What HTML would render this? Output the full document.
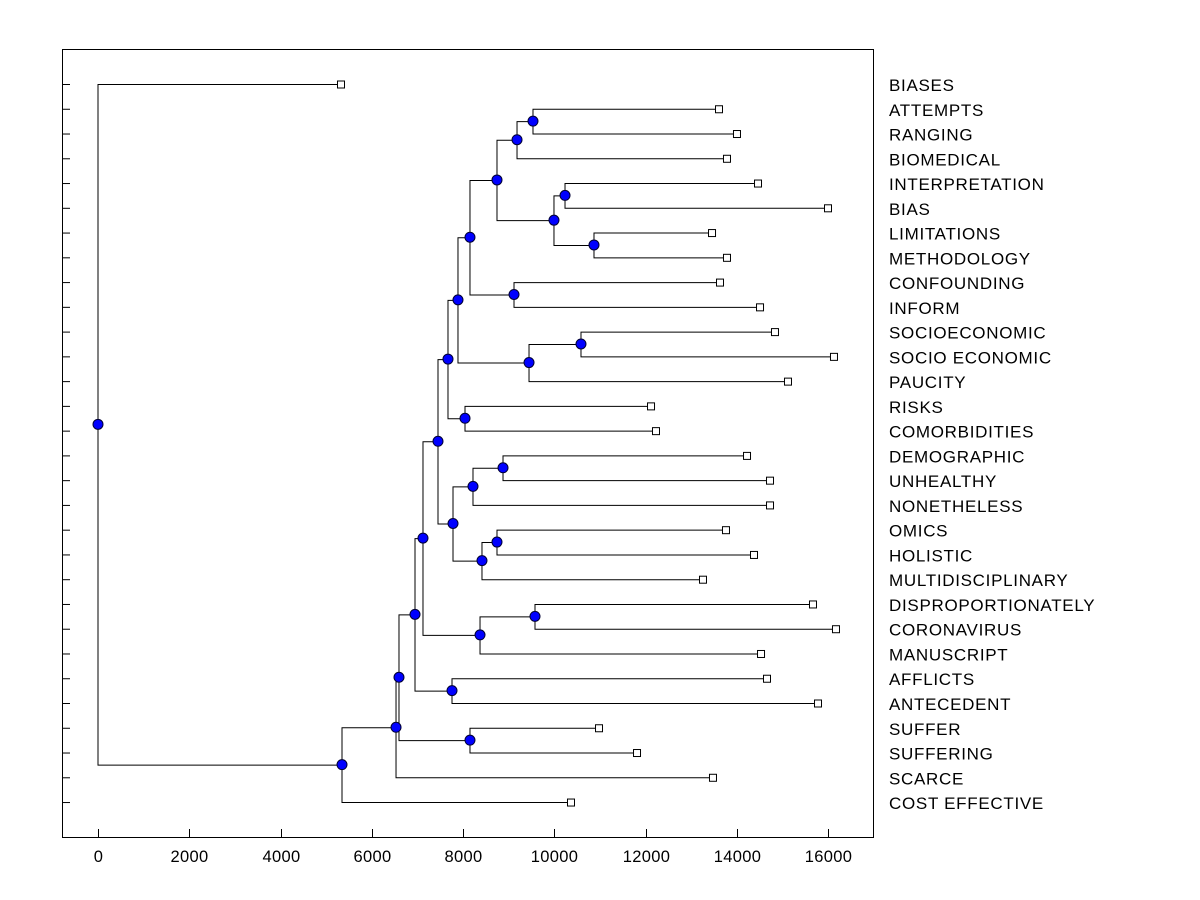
<!DOCTYPE html>
<html><head><meta charset="utf-8"><style>
body{margin:0;background:#fff;}
svg{display:block;font-family:"Liberation Sans",sans-serif;}
</style></head><body>
<svg id="chart" width="1200" height="900" xmlns="http://www.w3.org/2000/svg">
<rect x="62.5" y="49.5" width="811" height="788" fill="none" stroke="#000" stroke-width="1"/>
<g id="g"></g>
</svg>
<script>
const leafLabels=["BIASES","ATTEMPTS","RANGING","BIOMEDICAL","INTERPRETATION","BIAS","LIMITATIONS","METHODOLOGY","CONFOUNDING","INFORM","SOCIOECONOMIC","SOCIO ECONOMIC","PAUCITY","RISKS","COMORBIDITIES","DEMOGRAPHIC","UNHEALTHY","NONETHELESS","OMICS","HOLISTIC","MULTIDISCIPLINARY","DISPROPORTIONATELY","CORONAVIRUS","MANUSCRIPT","AFFLICTS","ANTECEDENT","SUFFER","SUFFERING","SCARCE","COST EFFECTIVE"];
const leafValues=[5326,13611,14005,13786,14466,16000,13458,13786,13633,14510,14838,16131,15123,12121,12230,14225,14729,14729,13764,14378,13260,15671,16175,14532,14663,15781,10981,11814,13479,10367];
const mergeChildren=[["L1","L2"],["N0","L3"],["L4","L5"],["L6","L7"],["N2","N3"],["N1","N4"],["L8","L9"],["N5","N6"],["L10","L11"],["N8","L12"],["N7","N9"],["L13","L14"],["N10","N11"],["L15","L16"],["N13","L17"],["L18","L19"],["N15","L20"],["N14","N16"],["N12","N17"],["L21","L22"],["N19","L23"],["N18","N20"],["L24","L25"],["N21","N22"],["L26","L27"],["N23","N24"],["N25","L28"],["N26","L29"],["L0","N27"]];
const mergeHeights=[9534,9184,10236,10871,9994,8745,9118,8153,10586,9447,7890,8044,7671,8877,8219,8745,8416,7781,7452,9578,8373,7123,7759,6948,8153,6597,6532,5348,0];
const xTicks=[0,2000,4000,6000,8000,10000,12000,14000,16000];

const NS="http://www.w3.org/2000/svg";
const g=document.getElementById('g');
const X=v=>98+v*0.045625;
const Yi=i=>84+i*24.76;
function mk(t,a){const e=document.createElementNS(NS,t);for(const k in a)e.setAttribute(k,a[k]);g.appendChild(e);return e;}
const pos={};
leafLabels.forEach((l,i)=>{pos["L"+i]={x:X(leafValues[i]),y:Yi(i)};});
mergeChildren.forEach((c,i)=>{const a=pos[c[0]],b=pos[c[1]];pos["N"+i]={x:X(mergeHeights[i]),y:(a.y+b.y)/2};});
leafLabels.forEach((l,i)=>{const t=mk('line',{x1:62,x2:70,y1:Yi(i)+0.5,y2:Yi(i)+0.5,stroke:'#000'});

});
xTicks.forEach(v=>{const x=Math.round(X(v))+0.5;
const t=mk('line',{x1:x,x2:x,y1:829,y2:837,stroke:'#000'});


const tx=mk('text',{x:x,y:862,'text-anchor':'middle','font-size':16.5,'letter-spacing':0.3});tx.textContent=v;

});
mergeChildren.forEach((c,i)=>{const n=pos["N"+i];
c.forEach(ch=>{const p=pos[ch];
const pl=mk('polyline',{points:`${n.x},${n.y} ${n.x},${p.y+0.5} ${p.x},${p.y+0.5}`,fill:'none',stroke:'#000','stroke-width':1});

});});
leafLabels.forEach((l,i)=>{const p=pos["L"+i];
const r=mk('rect',{x:p.x-3.5,y:p.y-3,width:7,height:7,fill:'#fff',stroke:'#000'});


const t=mk('text',{x:889,y:p.y+7,'font-size':17,'letter-spacing':0.7});t.textContent=l;

});
mergeChildren.forEach((c,i)=>{const n=pos["N"+i];
const ci=mk('circle',{cx:n.x,cy:n.y,r:5,fill:'#0000ff',stroke:'#000033','stroke-width':1});

});
</script>
</body></html>
